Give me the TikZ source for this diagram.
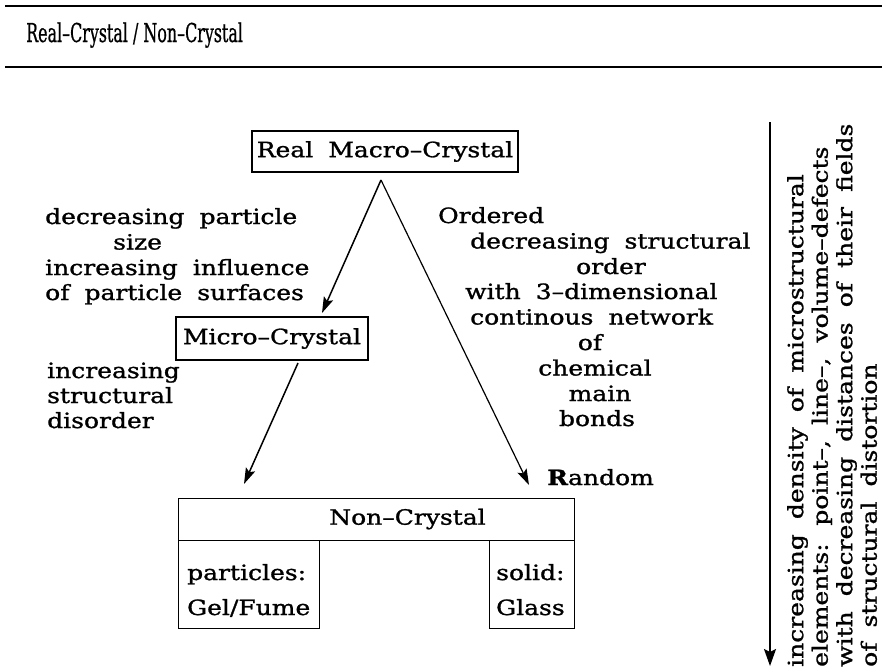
\documentclass[tikz,border=0pt]{standalone}
\usepackage{fontspec}
\setmainfont{DejaVu Serif}[FakeStretch=1.19, FakeBold=1.2, WordSpace=1.9]
\newfontfamily\titlefont{DejaVu Serif Condensed}[Ligatures=TeX, FakeBold=0.8]
\usetikzlibrary{arrows.meta}
\begin{document}
\begin{tikzpicture}[x=1pt,y=-1pt,
  every node/.style={font=\fontsize{21}{25.5}\selectfont, inner sep=0pt},
  boxnode/.style={draw, line width=1.2pt, minimum height=41pt},
  plainbox/.style={draw, line width=1.2pt, anchor=north west},
  txt/.style={anchor=base west},
  ctxt/.style={anchor=base},
  arr/.style={line width=1.5pt, -{Stealth[length=16pt,width=10pt,inset=3pt]}},
  rulestyle/.style={line width=1.8pt}]
\useasboundingbox (0,0) rectangle (882,669);
% rules
\coordinate (r1a) at (5,6);  \coordinate (r1b) at (882,6);
\coordinate (r2a) at (5,67); \coordinate (r2b) at (882,67);
\draw[rulestyle] (r1a) -- (r1b);
\draw[rulestyle] (r2a) -- (r2b);
\node[anchor=base west] (title) at (26,42) {\titlefont\fontsize{26}{28}\selectfont\scalebox{0.68}[1]{Real--Crystal / Non--Crystal}};
% boxes
\node[boxnode, minimum width=266pt] (macro) at (385,151.5) {Real Macro--Crystal};
\node[boxnode, minimum width=192pt, minimum height=43pt] (micro) at (272,338.5) {Micro--Crystal};
\node[plainbox, minimum width=396pt, minimum height=42pt] (noncr) at (178,498) {};
\node (noncrlabel) at (407.5,519) {Non--Crystal};
\node[plainbox, minimum width=141pt, minimum height=88pt] (gelbox) at (178,540) {};
\node[plainbox, minimum width=85pt, minimum height=88pt] (glassbox) at (489,540) {};
\node[txt] (particles) at (187,580) {particles:};
\node[txt] (gel) at (187,615) {Gel/Fume};
\node[txt] (solid) at (496,580) {solid:};
\node[txt] (glass) at (496,615) {Glass};
% connectors
\coordinate (apex) at (381,180);
\coordinate (tipA) at (322,313);
\coordinate (tipB) at (529,485);
\coordinate (mout) at (298,363);
\coordinate (tipC) at (244,484);
\draw[arr] (apex) -- (tipA);
\draw[arr, line width=1.2pt] (apex) -- (tipB);
\draw[arr] (mout) -- (tipC);
% left texts
\node[txt] (l1) at (45,224) {decreasing particle};
\node[txt] (l2) at (113,249.5) {size};
\node[txt] (l3) at (45,275) {increasing influence};
\node[txt] (l4) at (45,300) {of particle surfaces};
\node[txt] (l5) at (47,378) {increasing};
\node[txt] (l6) at (47,403) {structural};
\node[txt] (l7) at (47,428) {disorder};
% right texts
\node[txt] (r1) at (438,223) {Ordered};
\node[txt] (r2) at (470,248.5) {decreasing structural};
\node[ctxt] (r3) at (611,274) {order};
\node[txt] (r4) at (465,299) {with 3--dimensional};
\node[txt] (r5) at (470,324.5) {continous network};
\node[ctxt] (r6) at (590,350) {of};
\node[ctxt] (r7) at (595,375.5) {chemical};
\node[ctxt] (r8) at (600,401) {main};
\node[ctxt] (r9) at (597,426) {bonds};
\node[txt] (random) at (547,485) {\textbf{R}andom};
% vertical arrow and text
\coordinate (vtop) at (770,122);
\coordinate (vbot) at (770,666);
\draw[line width=1.8pt, -{Stealth[length=17pt,width=12pt,inset=3pt]}] (vtop) -- (vbot);
\node[rotate=90, anchor=north west, align=left, font=\fontsize{21}{24.5}\selectfont] (vtext) at (787,667)
  {increasing density of microstructural\\elements: point--, line--, volume--defects\\with decreasing distances of their fields\\of structural distortion};
\end{tikzpicture}
\end{document}
